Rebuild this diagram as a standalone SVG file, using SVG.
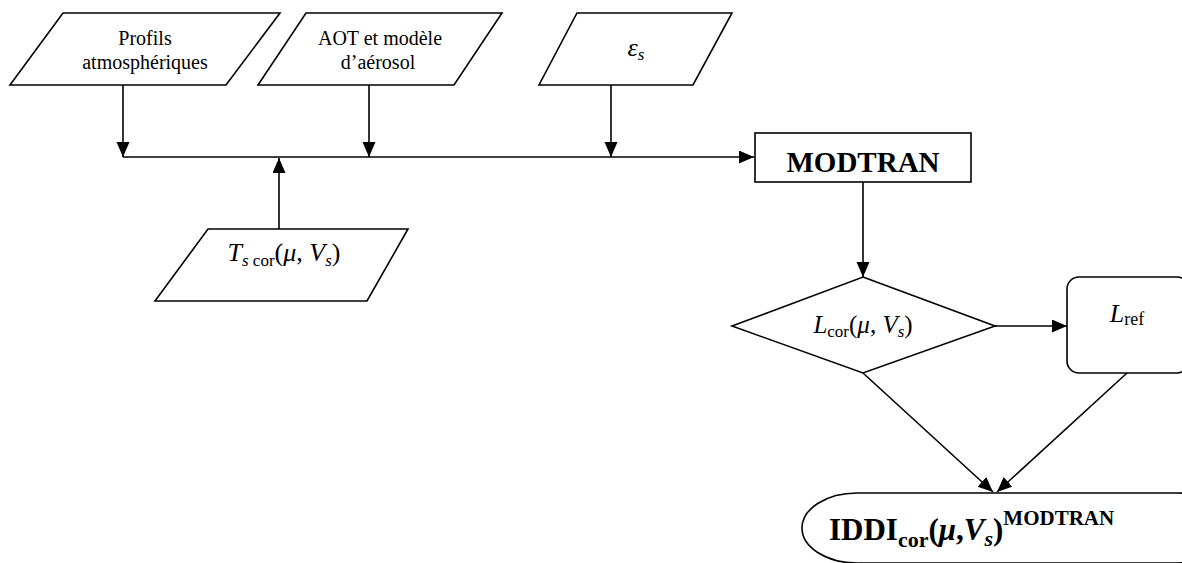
<svg xmlns="http://www.w3.org/2000/svg" width="1182" height="563" viewBox="0 0 1182 563">
<style>
.s{fill:#fff;stroke:#000;stroke-width:1.6}
.c{fill:none;stroke:#000;stroke-width:1.6}
.t{font-family:'Liberation Serif','DejaVu Serif',serif;fill:#000}
.i{font-style:italic}
.b{font-weight:bold}
</style>
<defs>
<marker id="ah" markerUnits="userSpaceOnUse" markerWidth="16" markerHeight="14" refX="15" refY="6.5" orient="auto">
<path d="M0,0 L15,6.5 L0,13 z" fill="#000"/>
</marker>
</defs>
<rect width="1182" height="563" fill="#fff"/>
<g id="connectors">
<line class="c" x1="123" y1="157" x2="754" y2="157" marker-end="url(#ah)"/>
<line class="c" x1="123" y1="85" x2="123" y2="157" marker-end="url(#ah)"/>
<line class="c" x1="369" y1="85" x2="369" y2="157" marker-end="url(#ah)"/>
<line class="c" x1="611" y1="85" x2="611" y2="157" marker-end="url(#ah)"/>
<line class="c" x1="279" y1="229" x2="279" y2="158" marker-end="url(#ah)"/>
<line class="c" x1="863" y1="182" x2="863" y2="277" marker-end="url(#ah)"/>
<line class="c" x1="995" y1="326" x2="1067" y2="326" marker-end="url(#ah)"/>
<line class="c" x1="863" y1="373" x2="993" y2="492" marker-end="url(#ah)"/>
<line class="c" x1="1127" y1="373" x2="997" y2="492" marker-end="url(#ah)"/>
</g>
<g id="profils">
<polygon class="s" points="63,13 280,13 226,85 10,85"/>
<text class="t" font-family="Liberation Serif, serif" x="145" y="45" font-size="20" text-anchor="middle">Profils</text>
<text class="t" font-family="Liberation Serif, serif" x="145" y="69" font-size="20" text-anchor="middle">atmosphériques</text>
</g>
<g id="aot">
<polygon class="s" points="306,13 502,13 454,85 258,85"/>
<text class="t" font-family="Liberation Serif, serif" x="380" y="45" font-size="20" text-anchor="middle">AOT et modèle</text>
<text class="t" font-family="Liberation Serif, serif" x="378" y="69" font-size="20" text-anchor="middle">d’aérosol</text>
</g>
<g id="eps">
<polygon class="s" points="577,13 732,13 693,85 539,85"/>
<text class="t" font-family="Liberation Serif, serif" x="636" y="56" font-size="26" text-anchor="middle"><tspan class="i">ε</tspan><tspan class="i" font-size="17" dy="4">s</tspan></text>
</g>
<g id="tscor">
<polygon class="s" points="208,229 408,229 367,301 155,301"/>
<text class="t" font-family="Liberation Serif, serif" x="284" y="261" font-size="26" text-anchor="middle"><tspan class="i">T</tspan><tspan class="i" font-size="17" dy="5">s</tspan><tspan font-size="17"> cor</tspan><tspan dy="-5">(</tspan><tspan class="i">μ</tspan>, <tspan class="i">V</tspan><tspan class="i" font-size="17" dy="5">s</tspan><tspan dy="-5">)</tspan></text>
</g>
<g id="modtran">
<rect class="s" x="755" y="133" width="216" height="49"/>
<text class="t b" font-family="Liberation Serif, serif" x="863" y="172" font-size="29" text-anchor="middle">MODTRAN</text>
</g>
<g id="lcor">
<polygon class="s" points="863,277 995,326 863,373 732,326"/>
<text class="t" font-family="Liberation Serif, serif" x="863" y="333" font-size="25" text-anchor="middle"><tspan class="i">L</tspan><tspan font-size="17" dy="4">cor</tspan><tspan dy="-4">(</tspan><tspan class="i">μ</tspan>, <tspan class="i">V</tspan><tspan class="i" font-size="17" dy="4">s</tspan><tspan dy="-4">)</tspan></text>
</g>
<g id="lref">
<rect class="s" x="1067" y="277" width="122" height="96" rx="12" ry="12"/>
<text class="t" font-family="Liberation Serif, serif" x="1127" y="322" font-size="26" text-anchor="middle"><tspan class="i">L</tspan><tspan font-size="18" dy="3">ref</tspan></text>
</g>
<g id="iddi">
<rect class="s" x="802" y="493" width="430" height="70" rx="55" ry="35"/>
<text class="t b" font-family="Liberation Serif, serif" x="829" y="540" font-size="31"><tspan>IDDI</tspan><tspan font-size="22" dy="7">cor</tspan><tspan dy="-7">(</tspan><tspan class="i">μ</tspan>,<tspan class="i">V</tspan><tspan class="i" font-size="22" dy="6">s</tspan><tspan dy="-6">)</tspan><tspan font-size="21" dy="-15">MODTRAN</tspan></text>
</g>
</svg>
